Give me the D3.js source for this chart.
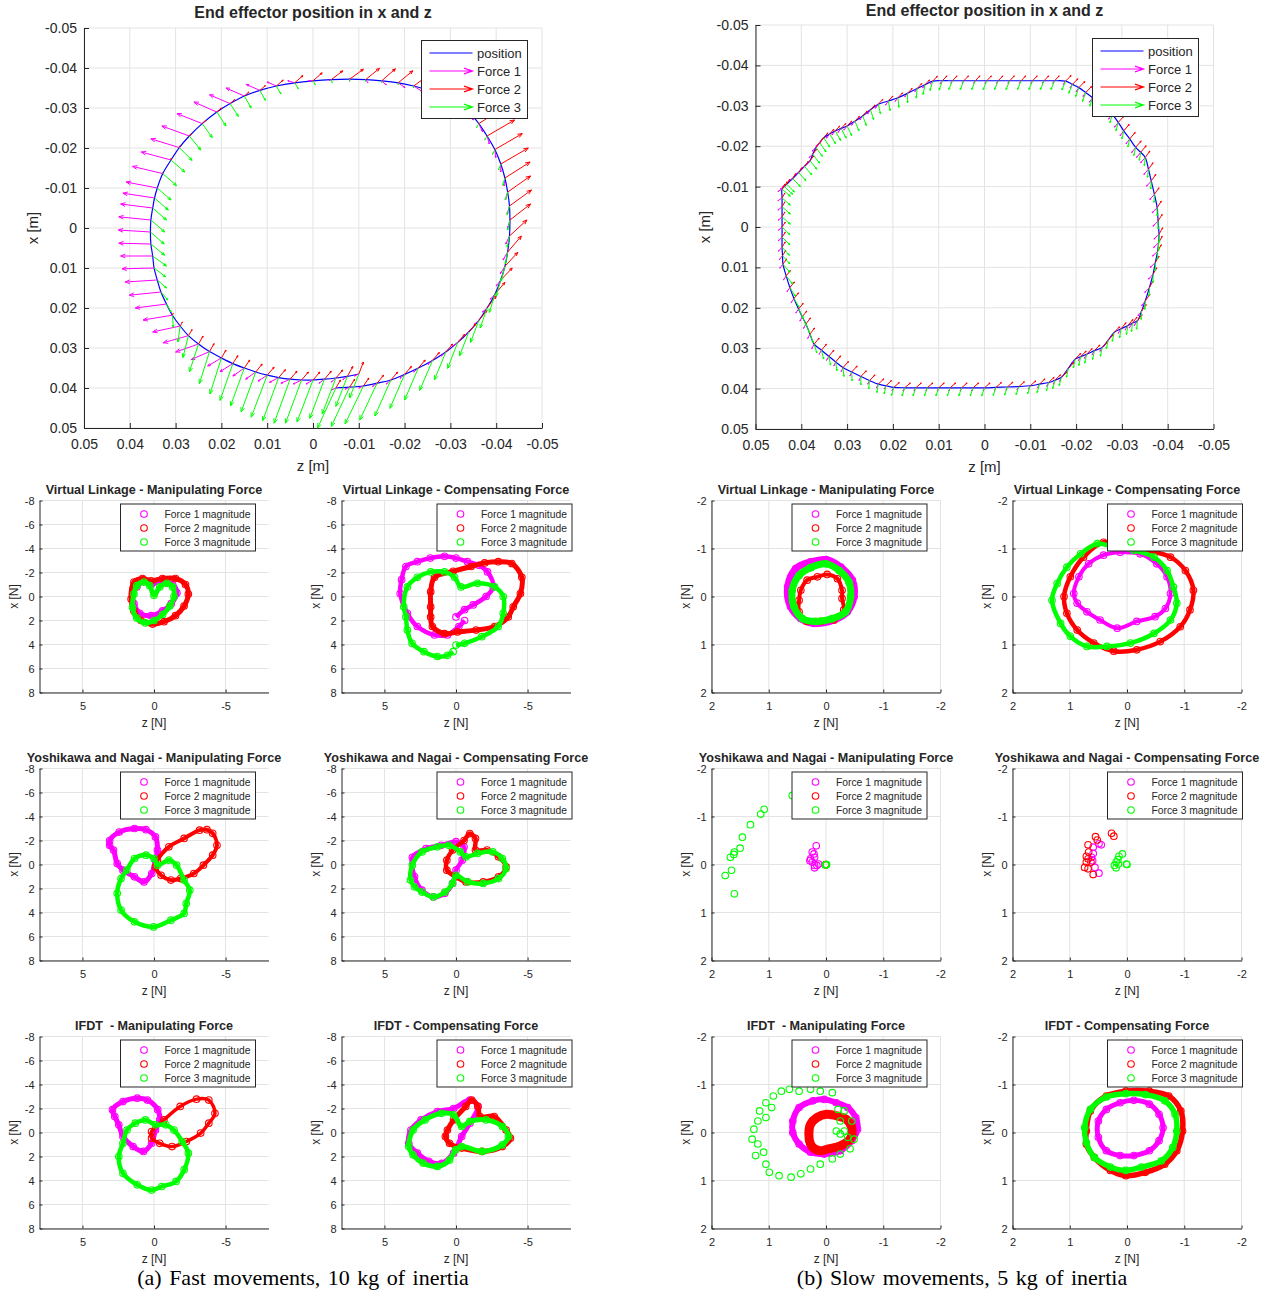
<!DOCTYPE html>
<html>
<head>
<meta charset="utf-8">
<script src="https://cdn.jsdelivr.net/npm/d3@7/dist/d3.min.js"></script>
<style>
body { margin: 0; background: #fff; }
text { font-family: "Liberation Sans", Arial, sans-serif; fill: #262626; }
</style>
</head>
<body>
<script>
// ---------- data: top quiver plots (z, x in m) ----------
const fastPos = [
  [-0.010,0.0365],[-0.0075,0.0371],[-0.005,0.0375],[-0.0025,0.0378],[0.000,0.0380],[0.0025,0.0380],[0.005,0.0378],[0.0075,0.0374],[0.010,0.0368],[0.0125,0.0360],
  [0.015,0.0350],[0.0175,0.0339],[0.020,0.0325],[0.0226,0.0309],[0.025,0.0290],[0.0272,0.0269],[0.029,0.0245],[0.0307,0.0218],[0.032,0.0190],[0.0332,0.0160],
  [0.034,0.0130],[0.0347,0.0100],[0.035,0.0070],[0.0354,0.0040],[0.0355,0.0010],[0.0354,-0.0020],[0.035,-0.0050],[0.0346,-0.0075],[0.034,-0.0100],[0.0328,-0.0136],
  [0.031,-0.0170],[0.0292,-0.0201],[0.027,-0.0230],[0.0242,-0.0261],[0.021,-0.0290],[0.0181,-0.0311],[0.015,-0.0330],[0.0116,-0.0344],[0.008,-0.0355],[0.0040,-0.0363],
  [0.000,-0.0368],[-0.0040,-0.0371],[-0.008,-0.0372],[-0.0115,-0.0371],[-0.015,-0.0368],[-0.0186,-0.0363],[-0.022,-0.0355],[-0.0252,-0.0344],[-0.028,-0.0330],[-0.0312,-0.0311],
  [-0.034,-0.0290],[-0.0362,-0.0261],[-0.038,-0.0230],[-0.0397,-0.0196],[-0.041,-0.0160],[-0.0419,-0.0125],[-0.0425,-0.0090],[-0.0429,-0.0055],[-0.043,-0.0020],[-0.0429,0.0020],
  [-0.0425,0.0060],[-0.0419,0.0096],[-0.041,0.0130],[-0.0397,0.0166],[-0.038,0.0200],[-0.0362,0.0231],[-0.034,0.0260],[-0.0316,0.0286],[-0.029,0.0310],[-0.0261,0.0331],
  [-0.023,0.0350],[-0.0200,0.0366],[-0.017,0.0380],[-0.0140,0.0388],[-0.011,0.0395],[-0.0080,0.0398],[-0.005,0.0400]];
const fastF1 = [
  [0.001,0.0005],[0.001,0.0008],[0.001,0.001],[0.0012,0.001],[0.0015,0.001],[0.0018,0.001],[0.002,0.001],[0.002,0.0012],[0.002,0.0015],[0.0022,0.0018],
  [0.0025,0.002],[0.0028,0.002],[0.003,0.002],[0.004,0.002],[0.005,0.002],[0.0055,0.0018],[0.006,0.0015],[0.0064,0.0012],[0.0068,0.001],[0.0069,0.0008],
  [0.007,0.0005],[0.007,0.0002],[0.007,0],[0.007,-0.0002],[0.007,-0.0005],[0.007,-0.0008],[0.007,-0.001],[0.0069,-0.0012],[0.0068,-0.0015],[0.0066,-0.0018],
  [0.0065,-0.002],[0.0062,-0.0022],[0.006,-0.0025],[0.0055,-0.0025],[0.005,-0.0025],[0.0045,-0.0022],[0.004,-0.002],[0.003,-0.0015],[0.002,-0.001],[0.0015,-0.0005],
  [0.001,0],[0.0005,0.0002],[0,0.0005],[-0.0005,0.0008],[-0.001,0.001],[-0.0015,0.0012],[-0.002,0.0015],[-0.0018,0.0018],[-0.0015,0.002],[-0.0012,0.002],
  [-0.001,0.002],[-0.0008,0.002],[-0.0005,0.002],[-0.0002,0.002],[0,0.002],[0.0002,0.002],[0.0005,0.002],[0.0005,0.002],[0.0005,0.002],[0.0008,0.002],
  [0.001,0.002],[0.001,0.0018],[0.001,0.0015],[0.001,0.0012],[0.001,0.001],[0.001,0.001],[0.001,0.001],[0.001,0.001],[0.001,0.001],[0.001,0.001],
  [0.001,0.001],[0.001,0.001],[0.001,0.001],[0.001,0.0008],[0.001,0.0005],[0.001,0.0005],[0.001,0.0005]];
const fastF2 = [
  [-0.001,-0.003],[-0.0012,-0.0025],[-0.0015,-0.002],[-0.0015,-0.002],[-0.0015,-0.002],[-0.0015,-0.002],[-0.0015,-0.002],[-0.0015,-0.002],[-0.0015,-0.002],[-0.0014,-0.002],
  [-0.0012,-0.002],[-0.0011,-0.002],[-0.001,-0.002],[-0.001,-0.002],[-0.001,-0.002],[-0.0008,-0.0015],[-0.0005,-0.001],[-0.0002,-0.0005],[0,0],[0,0],
  [0,0],[0,0],[0,0],[0,0],[0,0],[0,0],[0,0],[0,0],[0,0],[0,-0.0002],
  [0,-0.0005],[-0.0002,-0.0005],[-0.0005,-0.0005],[-0.0008,-0.0008],[-0.001,-0.001],[-0.001,-0.001],[-0.001,-0.001],[-0.0012,-0.0012],[-0.0015,-0.0015],[-0.0018,-0.0018],
  [-0.002,-0.002],[-0.0025,-0.0022],[-0.003,-0.0025],[-0.003,-0.0028],[-0.003,-0.003],[-0.0032,-0.003],[-0.0035,-0.003],[-0.0038,-0.0035],[-0.004,-0.004],[-0.0045,-0.004],
  [-0.005,-0.004],[-0.0055,-0.004],[-0.006,-0.004],[-0.006,-0.004],[-0.006,-0.004],[-0.0055,-0.004],[-0.005,-0.004],[-0.0048,-0.004],[-0.0045,-0.004],[-0.0038,-0.004],
  [-0.003,-0.004],[-0.0028,-0.0035],[-0.0025,-0.003],[-0.0022,-0.003],[-0.002,-0.003],[-0.0018,-0.0025],[-0.0015,-0.002],[-0.0015,-0.002],[-0.0015,-0.002],[-0.0015,-0.002],
  [-0.0015,-0.002],[-0.0015,-0.002],[-0.0015,-0.002],[-0.0014,-0.002],[-0.0012,-0.002],[-0.0011,-0.002],[-0.001,-0.002]];
const fastF3 = [
  [0.002,0.006],[0.0025,0.0075],[0.003,0.009],[0.0032,0.0098],[0.0035,0.0105],[0.0035,0.0108],[0.0035,0.011],[0.0035,0.0108],[0.0035,0.0105],[0.0032,0.010],
  [0.003,0.0095],[0.0028,0.0092],[0.0025,0.009],[0.0022,0.008],[0.002,0.007],[0.0012,0.0055],[0.0005,0.004],[-0.0002,0.003],[-0.001,0.002],[-0.0015,0.002],
  [-0.002,0.002],[-0.0025,0.0022],[-0.003,0.0025],[-0.003,0.0028],[-0.003,0.003],[-0.003,0.003],[-0.003,0.003],[-0.003,0.003],[-0.003,0.003],[-0.003,0.003],
  [-0.003,0.003],[-0.0028,0.0032],[-0.0025,0.0035],[-0.0022,0.0035],[-0.002,0.0035],[-0.0018,0.0032],[-0.0015,0.003],[-0.0012,0.0025],[-0.001,0.002],[-0.0008,0.0015],
  [-0.0005,0.001],[-0.0002,0.0008],[0,0.0005],[0,0.0005],[0,0.0005],[0,0.0005],[0,0.0005],[0,0.0008],[0,0.001],[0.0002,0.001],
  [0.0005,0.001],[0.0005,0.001],[0.0005,0.001],[0.0005,0.0012],[0.0005,0.0015],[0.0005,0.0018],[0.0005,0.002],[0.0005,0.0022],[0.0005,0.0025],[0.0005,0.0028],
  [0.0005,0.003],[0.0008,0.0035],[0.001,0.004],[0.0012,0.0045],[0.0015,0.005],[0.0018,0.0055],[0.002,0.006],[0.0022,0.0065],[0.0025,0.007],[0.0028,0.0075],
  [0.003,0.008],[0.0032,0.0085],[0.0035,0.009],[0.0038,0.0092],[0.004,0.0095],[0.004,0.0098],[0.004,0.010]];

const slowPos = [
  [0.0442,-0.0094],[0.0442,-0.0072],[0.0442,-0.0050],[0.0442,-0.0025],[0.0442,0.0000],[0.0442,0.0025],[0.0442,0.0050],[0.0441,0.0071],[0.0440,0.0092],[0.0433,0.0121],
  [0.0425,0.0150],[0.0416,0.0177],[0.0406,0.0203],[0.0398,0.0222],[0.0390,0.0240],[0.0381,0.0265],[0.0372,0.0290],[0.0356,0.0305],[0.0340,0.0320],[0.0325,0.0334],
  [0.0309,0.0348],[0.0290,0.0359],[0.0270,0.0370],[0.0251,0.0380],[0.0232,0.0389],[0.0215,0.0393],[0.0198,0.0397],[0.0174,0.0398],[0.0150,0.0398],[0.0125,0.0398],
  [0.0100,0.0398],[0.0075,0.0398],[0.0050,0.0398],[0.0025,0.0398],[0.0000,0.0398],[-0.0025,0.0397],[-0.0050,0.0396],[-0.0075,0.0395],[-0.0100,0.0393],[-0.0120,0.0389],
  [-0.0140,0.0385],[-0.0154,0.0379],[-0.0168,0.0372],[-0.0183,0.0350],[-0.0198,0.0327],[-0.0210,0.0321],[-0.0223,0.0315],[-0.0240,0.0306],[-0.0257,0.0298],[-0.0270,0.0280],
  [-0.0283,0.0261],[-0.0298,0.0252],[-0.0313,0.0244],[-0.0323,0.0238],[-0.0334,0.0232],[-0.0343,0.0208],[-0.0351,0.0183],[-0.0360,0.0150],[-0.0368,0.0117],[-0.0373,0.0088],
  [-0.0378,0.0060],[-0.0380,0.0039],[-0.0381,0.0018],[-0.0379,-0.0015],[-0.0377,-0.0048],[-0.0371,-0.0081],[-0.0364,-0.0114],[-0.0358,-0.0143],[-0.0351,-0.0172],[-0.0341,-0.0185],
  [-0.0330,-0.0197],[-0.0317,-0.0218],[-0.0304,-0.0238],[-0.0292,-0.0259],[-0.0279,-0.0279],[-0.0258,-0.0300],[-0.0236,-0.0320],[-0.0221,-0.0333],[-0.0206,-0.0345],[-0.0192,-0.0353],
  [-0.0177,-0.0361],[-0.0153,-0.0362],[-0.0130,-0.0362],[-0.0105,-0.0362],[-0.0080,-0.0362],[-0.0055,-0.0362],[-0.0030,-0.0362],[-0.0005,-0.0362],[0.0020,-0.0362],[0.0045,-0.0362],
  [0.0070,-0.0362],[0.0092,-0.0362],[0.0113,-0.0361],[0.0130,-0.0352],[0.0147,-0.0343],[0.0168,-0.0331],[0.0189,-0.0320],[0.0210,-0.0312],[0.0232,-0.0304],[0.0249,-0.0290],
  [0.0266,-0.0275],[0.0283,-0.0262],[0.0300,-0.0250],[0.0313,-0.0244],[0.0326,-0.0238],[0.0338,-0.0230],[0.0351,-0.0221],[0.0360,-0.0209],[0.0368,-0.0197],[0.0375,-0.0180],
  [0.0381,-0.0164],[0.0393,-0.0150],[0.0406,-0.0135],[0.0419,-0.0120],[0.0432,-0.0106],[0.0437,-0.0100]];
const slowF1 = [
  [0.0009,0.0006],[0.0009,0.0007],[0.0009,0.0008],[0.0008,0.0008],[0.0008,0.0008],[0.0008,0.0009],[0.0008,0.001],[0.0007,0.001],[0.0007,0.001],[0.0006,0.001],
  [0.0006,0.001],[0.0006,0.001],[0.0006,0.001],[0.0005,0.0011],[0.0005,0.0011],[0.0005,0.0011],[0.0005,0.0011],[0.0005,0.001],[0.0005,0.001],[0.0004,0.001],
  [0.0004,0.001],[0.0004,0.001],[0.0004,0.001],[0.0004,0.0009],[0.0004,0.0009],[0.0004,0.0008],[0.0004,0.0008],[0.0004,0.0008],[0.0004,0.0008],[0.0003,0.0008],
  [0.0003,0.0008],[0.0003,0.0008],[0.0003,0.0008],[0.0003,0.0008],[0.0003,0.0008],[0.0003,0.0008],[0.0003,0.0008],[0.0004,0.0008],[0.0004,0.0008],[0.0004,0.0009],
  [0.0004,0.0009],[0.0004,0.001],[0.0004,0.001],[0.0005,0.001],[0.0005,0.001],[0.0005,0.001],[0.0005,0.001],[0.0005,0.001],[0.0005,0.001],[0.0006,0.0011],
  [0.0006,0.0011],[0.0006,0.0011],[0.0006,0.0011],[0.0007,0.0012],[0.0007,0.0012],[0.0008,0.0012],[0.0008,0.0012],[0.001,0.0012],[0.001,0.0012],[0.0011,0.0012],
  [0.0011,0.0012],[0.0011,0.0012],[0.0011,0.0012],[0.0011,0.0013],[0.0011,0.0013],[0.001,0.0013],[0.001,0.0013],[0.001,0.0013],[0.001,0.0013],[0.0009,0.0013],
  [0.0009,0.0013],[0.0008,0.0012],[0.0008,0.0012],[0.0008,0.0012],[0.0008,0.0012],[0.0007,0.0011],[0.0007,0.0011],[0.0006,0.001],[0.0006,0.001],[0.0005,0.0008],
  [0.0005,0.0008],[0.0004,0.0006],[0.0004,0.0006],[0.0004,0.0006],[0.0004,0.0006],[0.0004,0.0006],[0.0004,0.0006],[0.0004,0.0006],[0.0004,0.0006],[0.0004,0.0006],
  [0.0004,0.0006],[0.0005,0.0007],[0.0005,0.0007],[0.0005,0.0008],[0.0005,0.0008],[0.0006,0.0009],[0.0006,0.0009],[0.0006,0.001],[0.0006,0.001],[0.0006,0.001],
  [0.0006,0.001],[0.0007,0.001],[0.0007,0.001],[0.0007,0.001],[0.0007,0.001],[0.0007,0.001],[0.0007,0.001],[0.0008,0.0009],[0.0008,0.0009],[0.0008,0.0008],
  [0.0008,0.0008],[0.0009,0.0007],[0.0009,0.0007],[0.0009,0.0006],[0.0009,0.0006],[0.0009,0.0006]];
const slowF2 = [
  [-0.0006,-0.0012],[-0.0006,-0.0012],[-0.0006,-0.0012],[-0.0006,-0.0012],[-0.0007,-0.0012],[-0.0007,-0.0012],[-0.0007,-0.0013],[-0.0007,-0.0013],[-0.0008,-0.0013],[-0.0009,-0.0013],
  [-0.001,-0.0014],[-0.001,-0.0014],[-0.001,-0.0014],[-0.001,-0.0014],[-0.001,-0.0015],[-0.001,-0.0015],[-0.0011,-0.0015],[-0.0011,-0.0015],[-0.0011,-0.0015],[-0.0011,-0.0015],
  [-0.0012,-0.0015],[-0.0012,-0.0015],[-0.0012,-0.0014],[-0.0012,-0.0014],[-0.0012,-0.0013],[-0.0012,-0.0013],[-0.0012,-0.0012],[-0.0012,-0.0012],[-0.0012,-0.0012],[-0.0012,-0.0012],
  [-0.0012,-0.0012],[-0.0012,-0.0012],[-0.0012,-0.0012],[-0.0012,-0.0012],[-0.0012,-0.0012],[-0.0012,-0.0012],[-0.0012,-0.0012],[-0.0012,-0.0012],[-0.0012,-0.0012],[-0.0012,-0.0013],
  [-0.0012,-0.0013],[-0.0012,-0.0013],[-0.0012,-0.0013],[-0.0012,-0.0014],[-0.0012,-0.0014],[-0.0012,-0.0014],[-0.0012,-0.0014],[-0.0012,-0.0014],[-0.0012,-0.0014],[-0.0012,-0.0014],
  [-0.0012,-0.0014],[-0.0011,-0.0015],[-0.0011,-0.0015],[-0.001,-0.0015],[-0.001,-0.0015],[-0.001,-0.0016],[-0.001,-0.0016],[-0.0008,-0.0016],[-0.0008,-0.0016],[-0.0008,-0.0016],
  [-0.0008,-0.0016],[-0.0008,-0.0016],[-0.0008,-0.0016],[-0.0009,-0.0016],[-0.0009,-0.0016],[-0.001,-0.0016],[-0.001,-0.0016],[-0.001,-0.0016],[-0.001,-0.0016],[-0.0012,-0.0016],
  [-0.0012,-0.0016],[-0.0012,-0.0016],[-0.0012,-0.0016],[-0.0013,-0.0016],[-0.0013,-0.0016],[-0.0013,-0.0016],[-0.0013,-0.0016],[-0.0013,-0.0015],[-0.0013,-0.0015],[-0.0012,-0.0014],
  [-0.0012,-0.0014],[-0.001,-0.0012],[-0.001,-0.0012],[-0.001,-0.0012],[-0.001,-0.0012],[-0.001,-0.0012],[-0.001,-0.0012],[-0.001,-0.0012],[-0.001,-0.0012],[-0.001,-0.0012],
  [-0.001,-0.0012],[-0.001,-0.0012],[-0.001,-0.0012],[-0.001,-0.0012],[-0.001,-0.0012],[-0.001,-0.0012],[-0.001,-0.0012],[-0.001,-0.0012],[-0.001,-0.0012],[-0.001,-0.0012],
  [-0.001,-0.0012],[-0.001,-0.0012],[-0.001,-0.0012],[-0.001,-0.0012],[-0.001,-0.0012],[-0.0009,-0.0012],[-0.0009,-0.0012],[-0.0009,-0.0012],[-0.0009,-0.0012],[-0.0008,-0.0012],
  [-0.0008,-0.0012],[-0.0008,-0.0012],[-0.0008,-0.0012],[-0.0007,-0.0012],[-0.0007,-0.0012],[-0.0006,-0.0012]];
const slowF3 = [
  [-0.0018,0.0018],[-0.0018,0.0018],[-0.0018,0.0018],[-0.0018,0.0018],[-0.0017,0.0019],[-0.0017,0.0019],[-0.0016,0.002],[-0.0016,0.002],[-0.0015,0.002],[-0.0014,0.002],
  [-0.0012,0.0021],[-0.0011,0.0021],[-0.001,0.0022],[-0.0009,0.0022],[-0.0008,0.0022],[-0.0007,0.0022],[-0.0006,0.0022],[-0.0005,0.0022],[-0.0004,0.0022],[-0.0003,0.0022],
  [-0.0002,0.0022],[-0.0001,0.0022],[0,0.0021],[0.0002,0.0021],[0.0003,0.0021],[0.0004,0.002],[0.0005,0.002],[0.0006,0.002],[0.0006,0.002],[0.0006,0.002],
  [0.0006,0.002],[0.0006,0.002],[0.0006,0.002],[0.0006,0.002],[0.0006,0.002],[0.0006,0.002],[0.0006,0.002],[0.0006,0.002],[0.0006,0.002],[0.0005,0.0021],
  [0.0005,0.0021],[0.0005,0.0021],[0.0005,0.0021],[0.0004,0.0022],[0.0004,0.0022],[0.0004,0.0022],[0.0004,0.0022],[0.0004,0.0022],[0.0004,0.0022],[0.0004,0.0022],
  [0.0004,0.0022],[0.0003,0.0022],[0.0003,0.0022],[0.0002,0.0021],[0.0002,0.0021],[0.0001,0.0021],[0.0001,0.0021],[0,0.002],[0,0.002],[0,0.002],
  [0,0.002],[0,0.002],[0,0.002],[0,0.002],[0,0.002],[0.0001,0.002],[0.0001,0.002],[0.0002,0.002],[0.0002,0.002],[0.0003,0.002],
  [0.0004,0.002],[0.0004,0.002],[0.0004,0.002],[0.0005,0.0021],[0.0005,0.0021],[0.0006,0.0021],[0.0006,0.0021],[0.0007,0.0022],[0.0007,0.0022],[0.0008,0.0022],
  [0.0008,0.0022],[0.0008,0.0022],[0.0008,0.0022],[0.0008,0.0022],[0.0008,0.0022],[0.0008,0.0022],[0.0008,0.0022],[0.0008,0.0022],[0.0008,0.0022],[0.0008,0.0022],
  [0.0008,0.0022],[0.0007,0.0023],[0.0006,0.0023],[0.0004,0.0024],[0.0002,0.0024],[0,0.0024],[-0.0002,0.0024],[-0.0004,0.0024],[-0.0005,0.0024],[-0.0007,0.0024],
  [-0.0008,0.0024],[-0.0009,0.0024],[-0.001,0.0024],[-0.0011,0.0024],[-0.0012,0.0024],[-0.0013,0.0024],[-0.0013,0.0023],[-0.0014,0.0023],[-0.0014,0.0022],[-0.0015,0.0022],
  [-0.0015,0.0021],[-0.0016,0.0021],[-0.0016,0.002],[-0.0017,0.002],[-0.0017,0.0019],[-0.0018,0.0019]];

// ---------- data: force scatter plots (z, x in N) ----------
const fastVlManF1 = [[1.2,-0.8],[0.7,-1.3],[0.2,-1.0],[-0.5,-1.3],[-1.3,-1.0],[-1.6,-0.3],[-1.2,0.6],[-0.6,1.2],[0.2,1.6],[1.0,1.4],[1.4,0.6],[1.5,-0.2]];
const fastVlManF2 = [[1.4,-1.2],[0.8,-1.5],[0.2,-1.3],[-0.6,-1.5],[-1.5,-1.5],[-2.2,-1.0],[-2.4,-0.2],[-2.1,0.8],[-1.5,1.6],[-0.7,2.1],[0.1,2.3],[0.9,2.0],[1.4,1.2],[1.6,0.2]];
const fastVlManF3 = [[1.4,-0.2],[1.2,-0.9],[0.7,-1.2],[0.3,-0.9],[0.0,-0.1],[-0.4,-0.8],[-0.9,-1.1],[-1.3,-0.8],[-1.4,0.0],[-1.1,0.8],[-0.6,1.5],[0.0,2.0],[0.6,2.2],[1.2,1.8],[1.5,0.9]];
const fastVlComF1 = [[0,1.7],[-0.6,1.1],[-1.2,0.7],[-2.1,0],[-2.6,-0.8],[-2.2,-2.05],[-1.6,-2.6],[-0.8,-2.9],[0.0,-3.2],[0.8,-3.35],[1.8,-3.2],[2.7,-2.9],[3.5,-2.5],[3.8,-1.4],[3.9,-0.25],[3.4,1.4],[2.7,2.5],[1.5,3.2],[0.6,3.2],[-0.2,2.5],[-0.6,2.0]];
const fastVlComF2 = [[1.77,0.86],[1.77,-0.4],[1.5,-1.6],[0.2,-2.1],[-1.06,-2.5],[-2.0,-2.8],[-2.95,-2.9],[-3.9,-2.75],[-4.6,-1.6],[-4.5,-0.25],[-4.0,0.86],[-3.65,1.7],[-2.7,2.5],[-1.4,2.8],[-0.1,2.95],[0.8,3.1],[1.65,2.5],[1.77,1.7]];
const fastVlComF3 = [[0,4.05],[-0.6,3.9],[-1.8,3.35],[-2.95,2.5],[-3.3,1.4],[-3.3,0],[-2.7,-0.8],[-1.5,-1.1],[-0.35,-0.8],[0.1,-1.6],[0.8,-2.05],[1.77,-2.05],[2.7,-1.6],[3.4,-0.8],[3.65,0.86],[3.5,1.7],[3.4,2.8],[3.07,3.9],[2.24,4.6],[1.3,5.0],[0.6,4.9],[0.2,4.6]];
const fastYnManF1 = [[3.1,-2.0],[2.43,-2.7],[1.36,-3.0],[0.56,-2.9],[-0.1,-2.3],[-0.24,-1.2],[-0.1,-0.36],[0.16,0.75],[0.7,1.45],[1.36,1.03],[2.17,0.47],[2.57,-0.08],[2.83,-1.2],[3.1,-1.6]];
const fastYnManF2 = [[-0.24,-0.36],[-1.04,-1.47],[-2.1,-2.17],[-3.18,-2.86],[-3.7,-2.9],[-4.1,-2.6],[-4.4,-1.6],[-4.1,-0.78],[-3.45,0.06],[-2.78,0.75],[-1.85,1.17],[-1.18,1.3],[-0.5,0.9],[-0.1,0.2]];
const fastYnManF3 = [[1.9,0.47],[1.36,-0.5],[0.56,-0.78],[0,-0.5],[-0.24,0.06],[-1.04,-0.36],[-1.58,0.06],[-2.1,1.3],[-2.5,2.14],[-2.25,3.25],[-2.1,4.08],[-1.18,4.64],[0.03,5.2],[1.36,4.78],[2.3,3.8],[2.57,2.4],[2.3,1.17]];
const fastYnComF1 = [[2.9,1.0],[3.05,-0.6],[2.1,-1.33],[1.04,-1.6],[0,-1.9],[-0.56,-1.47],[-0.43,-0.36],[0,0.47],[0.24,1.58],[0.78,2.4],[1.58,2.7],[2.38,2.14]];
const fastYnComF2 = [[0.64,-0.36],[0.24,-1.2],[-0.56,-2.0],[-0.96,-2.58],[-1.36,-2.17],[-1.36,-1.2],[-2.17,-1.2],[-2.97,-0.64],[-3.5,0.2],[-2.97,1.03],[-1.9,1.45],[-0.7,1.45],[0,1.03],[0.64,0.47]];
const fastYnComF3 = [[3.18,1.3],[3.05,0.06],[2.38,-1.05],[1.3,-1.47],[0.5,-1.6],[-0.3,-1.05],[-0.7,-0.64],[-1.5,-0.92],[-2.57,-1.05],[-3.24,-0.5],[-3.5,0.33],[-2.97,1.17],[-1.9,1.58],[-0.83,1.45],[0,0.9],[0.24,1.58],[0.78,2.3],[1.58,2.7],[2.38,2.3],[2.9,1.86]];
const fastIfdManF1 = [[2.9,-1.9],[2.17,-2.58],[1.17,-2.86],[0.46,-2.7],[-0.26,-1.9],[-0.4,-1.05],[-0.1,-0.2],[0.17,0.9],[0.74,1.58],[1.46,1.17],[2.17,0.33],[2.46,-0.64],[2.74,-1.33]];
const fastIfdManF2 = [[0.17,-0.08],[-0.69,-1.05],[-1.83,-2.17],[-2.97,-2.78],[-3.83,-2.7],[-4.26,-1.6],[-3.83,-0.78],[-3.26,0.05],[-2.26,0.75],[-1.26,1.17],[-0.4,0.9],[0.17,0.47]];
const fastIfdManF3 = [[2.17,0.9],[1.89,-0.2],[1.31,-0.78],[0.6,-1.05],[-0.1,-0.64],[-0.83,-0.64],[-1.4,-0.2],[-1.97,0.75],[-2.4,1.72],[-2.11,3.1],[-1.54,4.08],[-0.54,4.5],[0.17,4.8],[1.17,4.36],[2.17,3.4],[2.46,2.0]];
const fastIfdComF1 = [[3.15,-0.2],[2.44,-1.05],[1.3,-1.75],[0.17,-2.0],[-0.97,-2.7],[-1.53,-2.17],[-0.97,-0.78],[-0.4,0.33],[0.17,1.72],[1.0,2.58],[1.9,2.4],[2.7,1.72],[3.3,0.9]];
const fastIfdComF2 = [[0.6,-0.2],[0.17,-1.05],[-0.68,-2.17],[-1.1,-2.7],[-1.53,-2.17],[-1.68,-1.33],[-2.67,-1.33],[-3.5,-0.2],[-3.8,0.47],[-3.24,1.17],[-1.82,1.58],[-0.4,1.3],[0.45,0.9],[0.74,0.33]];
const fastIfdComF3 = [[3.3,1.17],[3.0,-0.2],[2.16,-1.05],[1.02,-1.6],[0.17,-1.47],[-0.4,-0.5],[-0.97,-0.92],[-2.1,-1.05],[-3.24,-0.5],[-3.66,0.33],[-3.24,1.03],[-1.82,1.58],[-0.4,1.17],[0.03,1.45],[0.45,2.3],[1.3,2.83],[2.3,2.55],[3.0,1.86]];

const slowVlManF1 = [[0.67,-0.2],[0.53,-0.58],[0.27,-0.72],[0,-0.77],[-0.26,-0.61],[-0.46,-0.34],[-0.49,0],[-0.37,0.32],[-0.14,0.49],[0.21,0.56],[0.44,0.46],[0.62,0.21]];
const slowVlManF2 = [[0.44,-0.13],[0.33,-0.34],[0.15,-0.41],[-0.02,-0.46],[-0.2,-0.37],[-0.28,-0.13],[-0.28,0.04],[-0.31,0.28],[-0.14,0.49],[0.09,0.52],[0.33,0.52],[0.47,0.32],[0.47,0.08]];
const slowVlManF3 = [[0.59,-0.13],[0.47,-0.44],[0.27,-0.6],[0,-0.68],[-0.23,-0.54],[-0.4,-0.3],[-0.43,0],[-0.34,0.32],[-0.11,0.46],[0.18,0.52],[0.41,0.46],[0.56,0.21]];
const slowVlComF1 = [[0.93,-0.06],[0.84,-0.41],[0.67,-0.68],[0.41,-0.86],[0.12,-0.92],[-0.23,-0.89],[-0.52,-0.68],[-0.7,-0.41],[-0.76,-0.06],[-0.67,0.25],[-0.49,0.42],[-0.17,0.52],[0.17,0.66],[0.47,0.49],[0.7,0.32],[0.87,0.14]];
const slowVlComF2 = [[1.1,0],[0.99,-0.41],[0.76,-0.82],[0.41,-1.13],[0.06,-1.03],[-0.35,-0.96],[-0.76,-0.82],[-1.02,-0.54],[-1.16,-0.13],[-1.1,0.28],[-0.93,0.63],[-0.58,0.94],[-0.17,1.11],[0.23,1.14],[0.58,0.97],[0.87,0.7],[1.05,0.35]];
const slowVlComF3 = [[1.31,0.08],[1.22,-0.27],[1.05,-0.61],[0.81,-0.89],[0.52,-1.1],[0.23,-1.03],[-0.12,-0.96],[-0.47,-0.82],[-0.7,-0.54],[-0.81,-0.2],[-0.87,0.14],[-0.76,0.49],[-0.47,0.77],[-0.06,0.97],[0.35,1.04],[0.7,1.04],[0.99,0.83],[1.16,0.56]];
const slowYnManF1 = [[0.17,-0.39],[0.24,-0.26],[0.21,-0.22],[0.27,-0.12],[0.2,-0.15],[0.24,-0.05],[0.28,-0.08],[0.2,0.02],[0.16,0.02],[0.2,0.07],[0.13,-0.01]];
const slowYnManF2 = [[0,0],[0.01,0],[0,0.01]];
const slowYnManF3 = [[0.59,-1.44],[1.08,-1.15],[1.14,-1.05],[1.32,-0.83],[1.46,-0.57],[1.5,-0.34],[1.6,-0.26],[1.61,-0.21],[1.67,-0.15],[1.65,0.12],[1.76,0.23],[1.6,0.61],[0,0],[0.01,0.01],[-0.01,0]];
const slowYnComF1 = [[0.49,-0.43],[0.45,-0.41],[0.59,-0.36],[0.59,-0.23],[0.6,-0.08],[0.56,0.06],[0.49,0.18],[0.62,-0.15]];
const slowYnComF2 = [[0.27,-0.65],[0.23,-0.59],[0.55,-0.58],[0.52,-0.51],[0.68,-0.41],[0.67,-0.26],[0.71,-0.17],[0.68,-0.12],[0.71,-0.05],[0.74,0.06],[0.68,0.09],[0.59,0.21],[0.63,-0.05]];
const slowYnComF3 = [[0.08,-0.22],[0.14,-0.17],[0.16,-0.1],[0.19,-0.05],[0.22,0.02],[0.19,0.07],[0.15,-0.01],[0,0],[0.01,-0.01]];
const slowIfdManF1 = [[0.58,-0.24],[0.47,-0.52],[0.23,-0.66],[0.03,-0.69],[-0.18,-0.62],[-0.38,-0.52],[-0.52,-0.31],[-0.55,-0.07],[-0.45,0.17],[-0.25,0.38],[0.03,0.45],[0.27,0.41],[0.47,0.24],[0.58,0]];
const slowIfdManF2 = [[0.3,0.03],[0.27,-0.17],[0.16,-0.31],[-0.01,-0.38],[-0.21,-0.34],[-0.35,-0.28],[-0.45,-0.1],[-0.42,0.14],[-0.25,0.28],[-0.04,0.34],[0.1,0.38],[0.2,0.34],[0.27,0.24]];
const slowIfdManF3 = [[0.78,-0.86],[0.64,-0.9],[0.47,-0.86],[0.27,-0.9],[0.1,-0.86],[-0.11,-0.83],[0.92,-0.76],[1.05,-0.62],[0.95,-0.52],[1.16,-0.45],[1.05,-0.31],[1.19,-0.24],
  [1.26,-0.07],[1.29,0.14],[1.19,0.24],[1.23,0.48],[1.09,0.41],[1.05,0.66],[0.99,0.83],[0.82,0.9],[0.61,0.93],[0.44,0.86],[0.27,0.76],[0.1,0.66],
  [-0.11,0.55],[-0.25,0.45],[-0.42,0.34],[-0.49,0.14],[-0.32,-0.03],[-0.25,-0.24],[-0.21,-0.48],[-0.32,-0.45],[-0.45,-0.24],[-0.38,0.1],[-0.25,0.03],[-0.18,-0.03]];
const slowIfdComF1 = [[0.5,-0.24],[0.36,-0.48],[0.12,-0.62],[-0.12,-0.67],[-0.39,-0.59],[-0.56,-0.38],[-0.63,-0.1],[-0.56,0.17],[-0.39,0.38],[-0.12,0.48],[0.12,0.48],[0.36,0.38],[0.5,0.1]];
const slowIfdComF2 = [[0.71,-0.03],[0.64,-0.45],[0.36,-0.76],[0.02,-0.86],[-0.39,-0.86],[-0.73,-0.76],[-0.94,-0.45],[-0.97,-0.03],[-0.87,0.38],[-0.66,0.66],[-0.32,0.83],[0.02,0.9],[0.29,0.79],[0.57,0.52],[0.71,0.24]];
const slowIfdComF3 = [[0.74,-0.1],[0.64,-0.48],[0.36,-0.74],[0.02,-0.81],[-0.32,-0.79],[-0.66,-0.66],[-0.84,-0.38],[-0.87,-0.03],[-0.8,0.31],[-0.6,0.59],[-0.25,0.72],[0.02,0.79],[0.29,0.72],[0.57,0.52],[0.71,0.21]];

// ---------- ticks and labels ----------
const bigTicks = [0.05,0.04,0.03,0.02,0.01,0,-0.01,-0.02,-0.03,-0.04,-0.05];
const fastZTicks = [5,0,-5];
const fastXTicks = [-8,-6,-4,-2,0,2,4,6,8];
const slowZTicks = [2,1,0,-1,-2];
const slowXTicks = [-2,-1,0,1,2];
const bigLegend = ['position','Force 1','Force 2','Force 3'];
const smallLegend = ['Force 1 magnitude','Force 2 magnitude','Force 3 magnitude'];
const captions = ['(a) Fast movements, 10 kg of inertia','(b) Slow movements, 5 kg of inertia'];

// ---------- drawing ----------
const AXIS = '#262626', GRID = '#e3e3e3';
const COL = ['#ff00ff', '#ff0000', '#00ff00'], BLUE = '#0000ff';

const svg = d3.select('body').append('svg').attr('width', 1273).attr('height', 1294);

function frame(p) {
  const sz = d3.scaleLinear().domain(p.zDom).range([p.x, p.x + p.w]);
  const sx = d3.scaleLinear().domain(p.xDom).range([p.y, p.y + p.h]);
  const g = svg.append('g');
  g.append('g').selectAll('line').data(p.zTicks).join('line')
    .attr('x1', d => sz(d)).attr('x2', d => sz(d)).attr('y1', p.y).attr('y2', p.y + p.h)
    .attr('stroke', GRID);
  g.append('g').selectAll('line').data(p.xTicks).join('line')
    .attr('y1', d => sx(d)).attr('y2', d => sx(d)).attr('x1', p.x).attr('x2', p.x + p.w)
    .attr('stroke', GRID);
  const ax = g.append('g').attr('transform', `translate(${p.x},0)`)
    .call(d3.axisLeft(sx).tickValues(p.xTicks).tickFormat(p.fmt).tickSizeInner(-p.tk).tickSizeOuter(0).tickPadding(p.padY));
  const bx = g.append('g').attr('transform', `translate(0,${p.y + p.h})`)
    .call(d3.axisBottom(sz).tickValues(p.zTicks).tickFormat(p.fmt).tickSizeInner(-p.tk).tickSizeOuter(0).tickPadding(p.padX));
  [ax, bx].forEach(a => {
    a.attr('font-family', null).attr('font-size', null);
    a.select('.domain').attr('stroke', AXIS);
    a.selectAll('.tick line').attr('stroke', AXIS);
    a.selectAll('.tick text').attr('fill', AXIS).style('font-size', p.fs + 'px');
  });
  const marks = g.append('g');
  g.append('text').attr('x', p.x + p.w / 2).attr('y', p.y - p.titleOff)
    .attr('text-anchor', 'middle').style('font-weight', 'bold').style('font-size', p.tfs + 'px')
    .style('white-space', 'pre').text(p.title);
  g.append('text').attr('transform', `translate(${p.x - p.ylOff},${p.y + p.h / 2}) rotate(-90)`)
    .attr('text-anchor', 'middle').attr('dy', '0.35em').style('font-size', p.lfs + 'px').text(p.ylab);
  g.append('text').attr('x', p.x + p.w / 2).attr('y', p.y + p.h + p.xlOff)
    .attr('text-anchor', 'middle').style('font-size', p.lfs + 'px').text(p.xlab);
  return { g, marks, sz, sx };
}

function arrowD(x0, y0, x1, y1, head, ang) {
  const dx = x1 - x0, dy = y1 - y0, L = Math.hypot(dx, dy);
  if (!(L > 0.3)) return '';
  const a = Math.atan2(dy, dx), h = head != null ? head : Math.min(0.2 * L, 5), s = ang || 0.38;
  return `M${x0},${y0}L${x1},${y1}M${x1 - h * Math.cos(a - s)},${y1 - h * Math.sin(a - s)}L${x1},${y1}L${x1 - h * Math.cos(a + s)},${y1 - h * Math.sin(a + s)}`;
}

function bigPlot(p, pos, forces, closed) {
  const f = frame(Object.assign({
    zDom: [0.05, -0.05], xDom: [-0.05, 0.05], zTicks: bigTicks, xTicks: bigTicks,
    fmt: d => Math.abs(d) < 1e-9 ? '0' : d.toFixed(2), tk: 5, padY: 7, padX: 11, fs: 14,
    title: 'End effector position in x and z', tfs: 16, titleOff: p.y - p.ty,
    ylab: 'x [m]', xlab: 'z [m]', lfs: 15, ylOff: 51, xlOff: 43
  }, p));
  const line = d3.line().x(d => f.sz(d[0])).y(d => f.sx(d[1]))
    .curve(closed ? d3.curveCatmullRomClosed : d3.curveCatmullRom);
  f.marks.append('path').attr('d', line(pos)).attr('fill', 'none').attr('stroke', BLUE).attr('stroke-width', 1.2);
  forces.forEach((vec, k) => {
    f.marks.append('g').selectAll('path').data(pos.map((d, i) => [d, vec[i] || [0, 0]])).join('path')
      .attr('d', ([d, v]) => arrowD(f.sz(d[0]), f.sx(d[1]), f.sz(d[0] + v[0]), f.sx(d[1] + v[1])))
      .attr('fill', 'none').attr('stroke', COL[k]).attr('stroke-width', 1);
  });
  const lg = f.g.append('g').attr('transform', `translate(${p.lx},${p.ly})`);
  lg.append('rect').attr('width', 106).attr('height', 78).attr('fill', '#fff').attr('stroke', AXIS);
  bigLegend.forEach((t, i) => {
    const y = 12.5 + i * 18;
    const c = i === 0 ? BLUE : COL[i - 1];
    lg.append('path').attr('d', i === 0 ? `M8,${y}L51,${y}` : arrowD(8, y, 51, y, 9, 0.33))
      .attr('fill', 'none').attr('stroke', c).attr('stroke-width', 1.2);
    lg.append('text').attr('x', 55.5).attr('y', y).attr('dy', '0.36em').style('font-size', '13px').text(t);
  });
}

bigPlot({ x: 84, y: 28, w: 458, h: 400, ty: 18, lx: 421.5, ly: 40.5 }, fastPos, [fastF1, fastF2, fastF3], false);
bigPlot({ x: 755.5, y: 25, w: 458, h: 404, ty: 16, lx: 1092.5, ly: 38.5 }, slowPos, [slowF1, slowF2, slowF3], true);

// small panels
const colX = [39.5, 341.5, 711.5, 1012.5];
const rowY = [500.5, 768.5, 1036.5];
const legX = [120.5, 437, 792, 1107.5];
const titles = [
  ['Virtual Linkage - Manipulating Force', 'Virtual Linkage - Compensating Force'],
  ['Yoshikawa and Nagai - Manipulating Force', 'Yoshikawa and Nagai - Compensating Force'],
  ['IFDT  - Manipulating Force', 'IFDT - Compensating Force']
];
// series: [data, band width, closed]
const panels = [
  [[fastVlManF1, 5, 1], [fastVlManF2, 5, 1], [fastVlManF3, 5, 1]],
  [[fastVlComF1, 4.5, 0], [fastVlComF2, 5, 1], [fastVlComF3, 4.5, 0]],
  [[slowVlManF1, 7, 1], [slowVlManF2, 4, 1], [slowVlManF3, 7, 1]],
  [[slowVlComF1, 4, 1], [slowVlComF2, 4.5, 1], [slowVlComF3, 4.5, 1]],
  [[fastYnManF1, 5, 1], [fastYnManF2, 4, 1], [fastYnManF3, 4.5, 1]],
  [[fastYnComF1, 4.5, 1], [fastYnComF2, 4.5, 1], [fastYnComF3, 4.5, 1]],
  [[slowYnManF1, 0, 0], [slowYnManF2, 0, 0], [slowYnManF3, 0, 0]],
  [[slowYnComF1, 0, 0], [slowYnComF2, 0, 0], [slowYnComF3, 0, 0]],
  [[fastIfdManF1, 5, 1], [fastIfdManF2, 3.5, 1], [fastIfdManF3, 4.5, 1]],
  [[fastIfdComF1, 5, 1], [fastIfdComF2, 5, 1], [fastIfdComF3, 5, 1]],
  [[slowIfdManF1, 6, 1], [slowIfdManF2, 9, 1], [slowIfdManF3, 0, 0]],
  [[slowIfdComF1, 5, 1], [slowIfdComF2, 5.5, 1], [slowIfdComF3, 5.5, 1]]
];

panels.forEach((series, n) => {
  const row = Math.floor(n / 4), col = n % 4, fast = col < 2;
  const f = frame({
    x: colX[col], y: rowY[row], w: 229, h: 192,
    zDom: fast ? [8, -8] : [2, -2], xDom: fast ? [-8, 8] : [-2, 2],
    zTicks: fast ? fastZTicks : slowZTicks, xTicks: fast ? fastXTicks : slowXTicks,
    fmt: d => String(d), tk: 3, padY: 5, padX: 9.5, fs: 11,
    title: titles[row][col % 2], tfs: 12.6, titleOff: 6.5,
    ylab: 'x [N]', xlab: 'z [N]', lfs: 12, ylOff: 25.5, xlOff: 34.5
  });
  series.forEach(([data, band, closed], k) => {
    if (band > 0) {
      const line = d3.line().x(d => f.sz(d[0])).y(d => f.sx(d[1]))
        .curve(closed ? d3.curveCatmullRomClosed.alpha(0.5) : d3.curveCatmullRom.alpha(0.5));
      f.marks.append('path').attr('d', line(data)).attr('fill', 'none')
        .attr('stroke', COL[k]).attr('stroke-width', band).attr('stroke-linejoin', 'round');
    }
    f.marks.append('g').selectAll('circle').data(data).join('circle')
      .attr('cx', d => f.sz(d[0])).attr('cy', d => f.sx(d[1])).attr('r', 3.3)
      .attr('fill', 'none').attr('stroke', COL[k]).attr('stroke-width', 1.1);
  });
  const lg = f.g.append('g').attr('transform', `translate(${legX[col]},${rowY[row] + 3.5})`);
  lg.append('rect').attr('width', 135).attr('height', 47).attr('fill', '#fff').attr('stroke', AXIS);
  smallLegend.forEach((t, i) => {
    const y = 10 + i * 14;
    lg.append('circle').attr('cx', 23.5).attr('cy', y).attr('r', 3.3)
      .attr('fill', 'none').attr('stroke', COL[i]).attr('stroke-width', 1.1);
    lg.append('text').attr('x', 44).attr('y', y).attr('dy', '0.36em').style('font-size', '10.3px').text(t);
  });
});

// captions
svg.selectAll('.cap').data(captions).join('text').attr('class', 'cap')
  .attr('x', (d, i) => i === 0 ? 303 : 962).attr('y', 1285)
  .attr('text-anchor', 'middle')
  .style('font-family', '"Liberation Serif", "Times New Roman", serif')
  .style('font-size', '22px').style('word-spacing', '2px').style('fill', '#000')
  .text(d => d);
</script>
</body>
</html>
